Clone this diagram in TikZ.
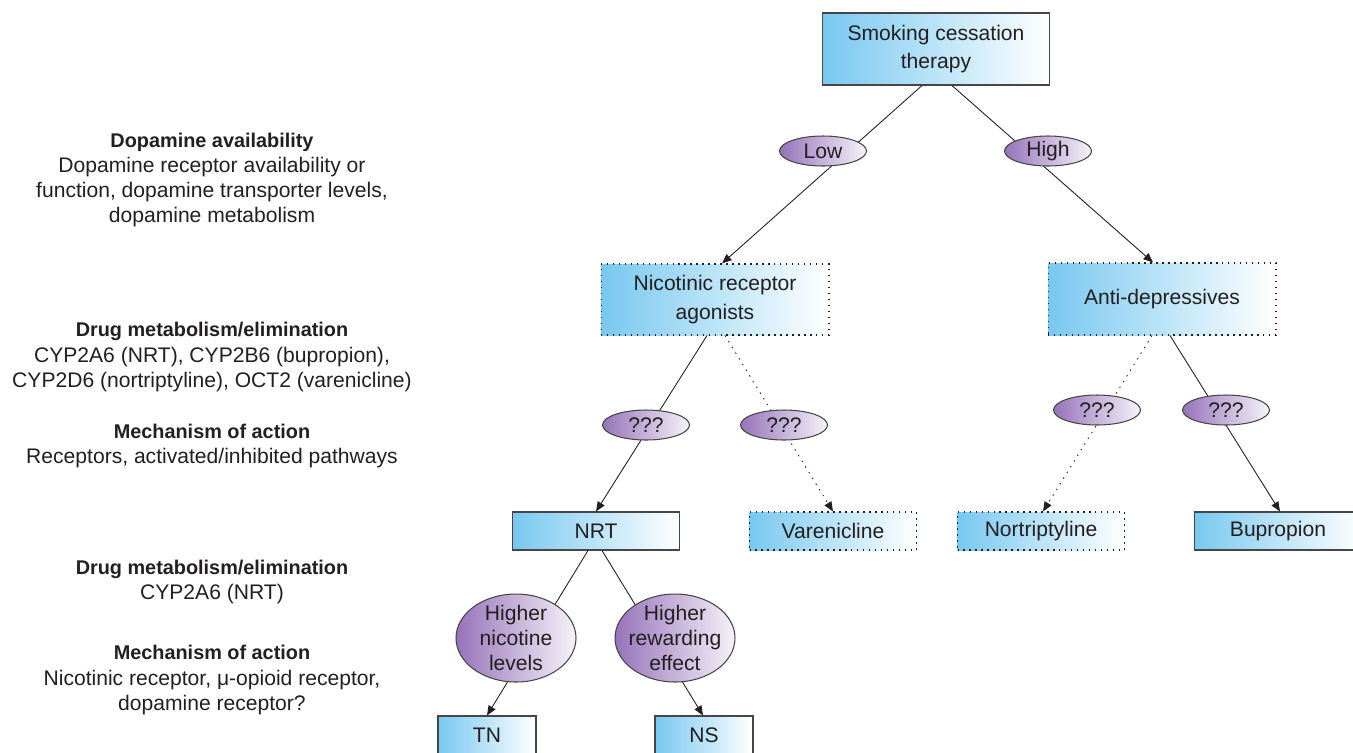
\documentclass[tikz,border=0pt]{standalone}
\usepackage{fontspec}
\setmainfont{Liberation Sans}
\usetikzlibrary{arrows.meta}
\usetikzlibrary{calc}
\usetikzlibrary{shapes.geometric}

\definecolor{inkgray}{RGB}{35,31,32}
\definecolor{rimgray}{RGB}{70,70,70}
\definecolor{boxblue}{RGB}{120,200,240}
\definecolor{ovalpurple}{RGB}{150,115,185}
\definecolor{ovalpale}{RGB}{246,243,250}

\newcommand{\notehead}[1]{{\bfseries\fontsize{11.3}{14.4}\selectfont #1}}

\begin{document}
\begin{tikzpicture}[x=0.02cm, y=-0.02cm,
    every node/.style={text=inkgray},
    drugbox/.style={rectangle, draw=rimgray, line width=0.6pt, left color=boxblue, right color=white, inner sep=0pt, align=center, font=\fontsize{12}{16}\selectfont},
    classbox/.style={drugbox, draw=inkgray, dash pattern=on 0.8pt off 2.6pt},
    oval/.style={ellipse, draw=rimgray, line width=0.6pt, left color=ovalpurple, right color=ovalpale, inner sep=0pt, font=\fontsize{12}{14.2}\selectfont},
    ovaltext/.style={align=center, inner sep=0pt, font=\fontsize{12}{14.2}\selectfont},
    link/.style={draw=inkgray, line width=0.5pt, -{Triangle[length=5.5pt,width=4.5pt]}},
    dotlink/.style={link, dash pattern=on 0.8pt off 3pt},
    sidenote/.style={align=center, inner sep=0pt, font=\fontsize{12}{14.4}\selectfont},
  ]
  \clip (0,0) rectangle (1353,752);

  % left column notes
  \node[sidenote] (dopa) at (212,180) {\notehead{Dopamine availability}\\Dopamine receptor availability or\\function, dopamine transporter levels,\\dopamine metabolism};
  \node[sidenote] (metab1) at (212,357) {\notehead{Drug metabolism/elimination}\\CYP2A6 (NRT), CYP2B6 (bupropion),\\CYP2D6 (nortriptyline), OCT2 (varenicline)};
  \node[sidenote] (mech1) at (212,446) {\notehead{Mechanism of action}\\Receptors, activated/inhibited pathways};
  \node[sidenote] (metab2) at (212,582) {\notehead{Drug metabolism/elimination}\\CYP2A6 (NRT)};
  \node[sidenote] (mech2) at (212,680) {\notehead{Mechanism of action}\\Nicotinic receptor, μ-opioid receptor,\\dopamine receptor?};

  % boxes
  \node[drugbox, minimum width=4.54cm, minimum height=1.44cm] (therapy) at (936,49) {Smoking cessation\\therapy};
  \node[classbox, minimum width=4.56cm, minimum height=1.42cm] (nic) at (715,299.5) {Nicotinic receptor\\agonists};
  \node[classbox, minimum width=4.56cm, minimum height=1.44cm] (anti) at (1162,299) {Anti-depressives};
  \node[drugbox, minimum width=3.34cm, minimum height=0.76cm] (nrt) at (596,531) {NRT};
  \node[classbox, minimum width=3.34cm, minimum height=0.76cm] (vare) at (833,531) {Varenicline};
  \node[classbox, minimum width=3.34cm, minimum height=0.76cm] (nort) at (1041,531) {Nortriptyline};
  \node[drugbox, minimum width=3.34cm, minimum height=0.76cm] (bup) at (1278,531) {Bupropion};
  \node[drugbox, minimum width=1.96cm, minimum height=0.76cm] (tn) at (487,735) {TN};
  \node[drugbox, minimum width=1.96cm, minimum height=0.76cm] (ns) at (704,735) {NS};

  % connectors
  \draw[link] ($(therapy.south)+(-14,0)$) -- ($(nic.north)+(7,0)$);
  \draw[link] ($(therapy.south)+(16,0)$) -- ($(anti.north)+(-9,0)$);
  \draw[link] ($(nic.south)+(-8,0)$) -- (nrt.north);
  \draw[dotlink] ($(nic.south)+(10,0)$) -- (vare.north);
  \draw[dotlink] ($(anti.south)+(-10,0)$) -- ($(nort.north)+(2,0)$);
  \draw[link] ($(anti.south)+(8,0)$) -- ($(bup.north)+(2,0)$);
  \draw[link] ($(nrt.south)+(-8,0)$) -- (tn.north);
  \draw[link] ($(nrt.south)+(6,0)$) -- ($(ns.north)+(-1,0)$);

  % conditions
  \node[oval, minimum width=1.74cm, minimum height=0.6cm] (low) at (823,151) {Low};
  \node[oval, minimum width=1.74cm, minimum height=0.6cm] (high) at (1048,151) {High};
  \node[oval, minimum width=1.74cm, minimum height=0.6cm] (q1) at (646,425) {???};
  \node[oval, minimum width=1.74cm, minimum height=0.6cm] (q2) at (784,425) {???};
  \node[oval, minimum width=1.74cm, minimum height=0.6cm] (q3) at (1097,410) {???};
  \node[oval, minimum width=1.74cm, minimum height=0.6cm] (q4) at (1226,410) {???};
  \node[oval, minimum width=2.4cm, minimum height=1.76cm, label={[ovaltext]center:Higher\\nicotine\\levels}] (hnl) at (516,638) {};
  \node[oval, minimum width=2.4cm, minimum height=1.76cm, label={[ovaltext]center:Higher\\rewarding\\effect}] (hre) at (675,638) {};
\end{tikzpicture}
\end{document}
